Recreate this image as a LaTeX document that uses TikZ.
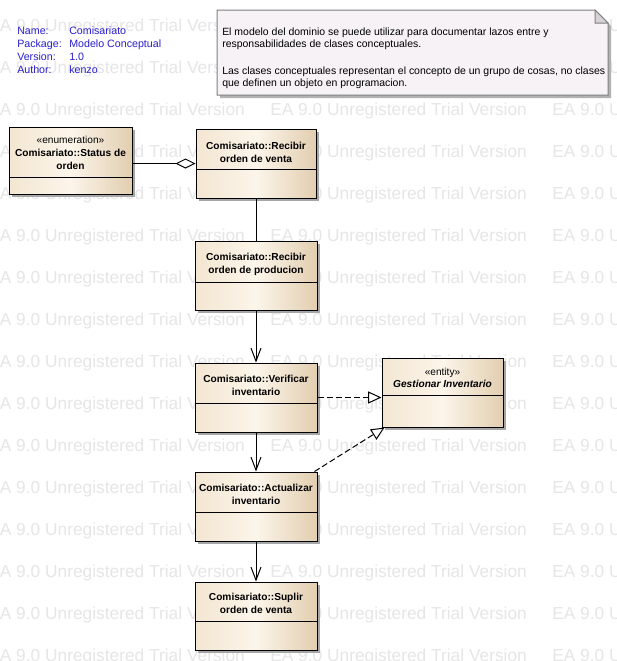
\documentclass[tikz,border=0pt]{standalone}
\usepackage{fontspec}
\setmainfont{Liberation Sans}
\usetikzlibrary{arrows.meta,positioning,fit,calc,shadows}
\definecolor{clsLeft}{HTML}{F3E6D2}
\definecolor{clsMid}{HTML}{FCF5EA}
\definecolor{clsRight}{HTML}{E2CEB0}
\definecolor{noteFill}{HTML}{F6F2F6}
\definecolor{noteFold}{HTML}{D6D2D6}
\definecolor{noteLine}{HTML}{808080}
\definecolor{hdrBlue}{HTML}{2A1FCC}
\definecolor{wmGray}{HTML}{E6E6E6}
\tikzset{
  cls/.style={draw=black, line width=0.75pt, inner sep=0pt,
              left color=clsLeft, right color=clsRight, middle color=clsMid,
              drop shadow={shadow xshift=2.25pt, shadow yshift=-2.25pt, fill=black!35, opacity=1}},
  clsname/.style={align=center, inner sep=0pt, font=\fontsize{7.6}{9.6}\selectfont\bfseries},
  divider/.style={line width=0.75pt},
  hdr/.style={inner sep=0pt, text=hdrBlue, font=\fontsize{8}{9.75}\selectfont},
  notetext/.style={inner sep=0pt, font=\fontsize{7.85}{9}\selectfont},
  notebox/.style={draw=noteLine, fill=noteFill, line width=0.75pt,
                  drop shadow={shadow xshift=2.25pt, shadow yshift=-2.25pt, fill=black!30, opacity=1}},
  wmark/.style={inner sep=0pt, text=wmGray, font=\fontsize{13}{13}\selectfont},
  link/.style={line width=0.75pt},
  nav/.style={link, -{Straight Barb[length=9.75pt, width=7.5pt]}},
  assoc/.style={link, -{Diamond[open, fill=white, length=15pt, width=7.5pt]}},
  realize/.style={link, dash pattern=on 4.5pt off 2.25pt,
                  -{Triangle[open, fill=white, length=10pt, width=9pt]}}
}
\begin{document}
\begin{tikzpicture}[x=0.75pt, y=-0.75pt]
  \useasboundingbox (0,0) rectangle (617,661);
  \fill[white] (0,0) rectangle (617,661);

  % watermark
  \begin{scope}
    \clip (0,0) rectangle (617,661);
    \foreach \r in {0,...,15}
      \foreach \c in {0,1,2}
        \node[wmark, anchor=base west] (wm-\r-\c) at (-12+282*\c, 31+42*\r)
          {EA 9.0 Unregistered Trial Version};
  \end{scope}

  % header
  \foreach \k/\v [count=\i from 0] in {Name:/Comisariato, Package:/Modelo Conceptual,
                                        Version:/1.0, Author:/kenzo} {
    \node[hdr, anchor=base west] (key-\i) at (17, 34.5+13*\i) {\k};
    \node[hdr, anchor=base west] (val-\i) at (69, 34.5+13*\i) {\v};
  }

  % note
  \path[notebox] (217,10) -- (595,10) -- (608,23) -- (608,95) -- (217,95) -- cycle;
  \draw[draw=noteLine, fill=noteFold, line width=0.75pt] (595,10) -- (595,23) -- (608,23) -- cycle;
  \node[notetext, anchor=base west] (note-1) at (222,35.5)
    {El modelo del dominio se puede utilizar para documentar lazos entre y};
  \node[notetext, anchor=base west] (note-2) at (222,47.5)
    {responsabilidades de clases conceptuales.};
  \node[notetext, anchor=base west] (note-3) at (222,74)
    {Las clases conceptuales representan el concepto de un grupo de cosas, no clases};
  \node[notetext, anchor=base west] (note-4) at (222,86)
    {que definen un objeto en programacion.};

  % classes
  \node[cls, fit={(9,127) (132,194)}] (status) {};
  \draw[divider] (9,177) -- (132,177);
  \node[clsname] (status-t) at (70.5,153)
    {\mdseries\guillemotleft enumeration\guillemotright\\Comisariato::Status de\\orden};

  \node[cls, fit={(196,129) (316,198)}] (venta) {};
  \draw[divider] (196,169) -- (316,169);
  \node[clsname] (venta-t) at (256,152) {Comisariato::Recibir\\orden de venta};

  \node[cls, fit={(195,241) (317,310)}] (prod) {};
  \draw[divider] (195,282) -- (317,282);
  \node[clsname] (prod-t) at (256,264) {Comisariato::Recibir\\orden de producion};

  \node[cls, fit={(195,363) (317,432)}] (verif) {};
  \draw[divider] (195,403) -- (317,403);
  \node[clsname] (verif-t) at (256,385.5) {Comisariato::Verificar\\inventario};

  \node[cls, fit={(382,358) (503,427)}] (gest) {};
  \draw[divider] (382,395) -- (503,395);
  \node[clsname, font=\fontsize{7.6}{8.5}\selectfont] (gest-t) at (442.5,378)
    {\guillemotleft entity\guillemotright\\\bfseries\itshape Gestionar Inventario};

  \node[cls, fit={(195,472) (317,541)}] (act) {};
  \draw[divider] (195,512) -- (317,512);
  \node[clsname] (act-t) at (256,494.5) {Comisariato::Actualizar\\inventario};

  \node[cls, fit={(195,582) (317,650)}] (supl) {};
  \draw[divider] (195,621) -- (317,621);
  \node[clsname] (supl-t) at (256,603.5) {Comisariato::Suplir\\orden de venta};

  % connectors
  \draw[assoc] (status.east |- venta.west) -- (venta.west);
  \draw[link] (venta) -- (prod);
  \draw[nav] (prod) -- (verif);
  \draw[nav] (verif) -- (act);
  \draw[nav] (act) -- (supl);
  \draw[realize] (verif.east) -- (verif.east -| gest.west);
  \draw[realize] ($(act.north east)+(-3,0)$) -- ($(gest.south west)+(3,0)$);
\end{tikzpicture}
\end{document}
